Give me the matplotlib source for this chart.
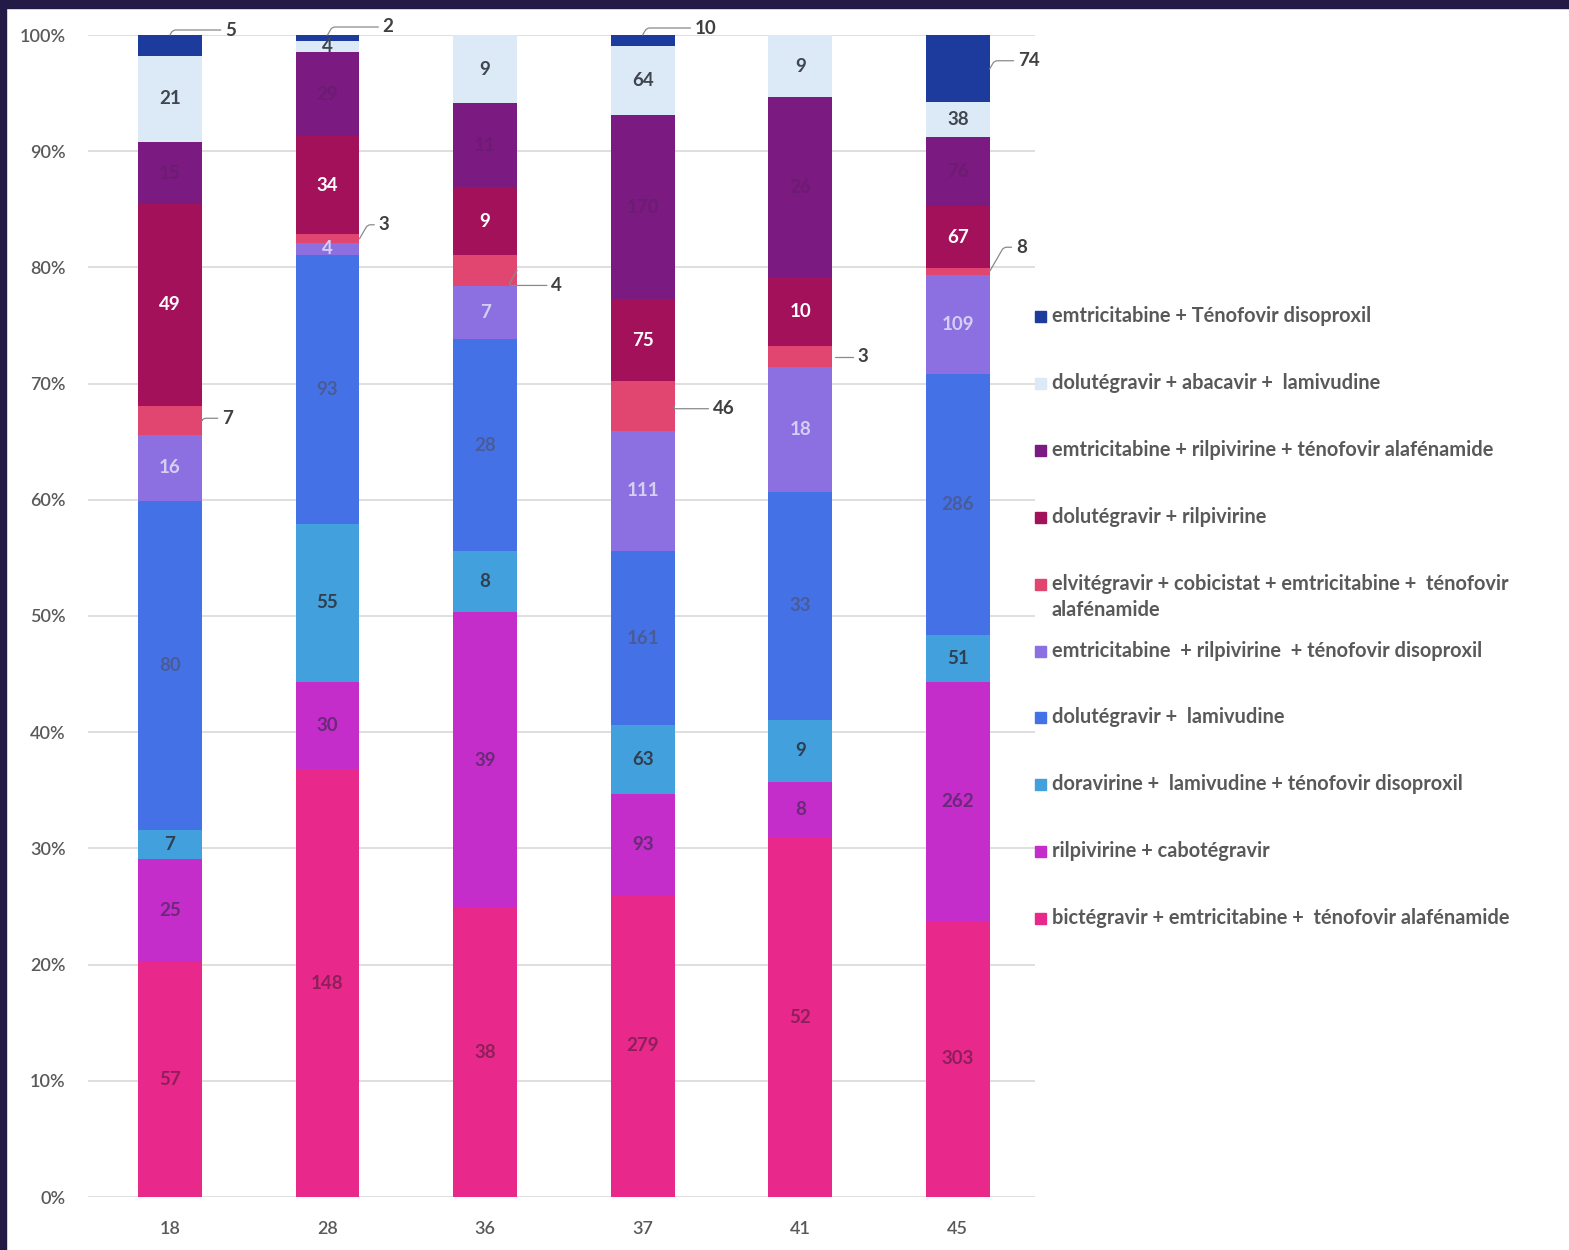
import matplotlib
matplotlib.use("Agg")
import matplotlib.pyplot as plt
from matplotlib.patches import Rectangle
import numpy as np

plt.rcParams['font.family'] = ['Lato', 'DejaVu Sans']

categories = ['18', '28', '36', '37', '41', '45']

series_names = [
    "bictégravir + emtricitabine +  ténofovir alafénamide",
    "rilpivirine + cabotégravir",
    "doravirine +  lamivudine + ténofovir disoproxil",
    "dolutégravir +  lamivudine",
    "emtricitabine  + rilpivirine  + ténofovir disoproxil",
    "elvitégravir + cobicistat + emtricitabine +  ténofovir\nalafénamide",
    "dolutégravir + rilpivirine",
    "emtricitabine + rilpivirine + ténofovir alafénamide",
    "dolutégravir + abacavir +  lamivudine",
    "emtricitabine + Ténofovir disoproxil",
]

bic_ftc_taf = [57, 148, 38, 279, 52, 303]
rpv_cab = [25, 30, 39, 93, 8, 262]
dor_3tc_tdf = [7, 55, 8, 63, 9, 51]
dtg_3tc = [80, 93, 28, 161, 33, 286]
ftc_rpv_tdf = [16, 4, 7, 111, 18, 109]
evg_cobi_ftc_taf = [7, 3, 4, 46, 3, 8]
dtg_rpv = [49, 34, 9, 75, 10, 67]
ftc_rpv_taf = [15, 29, 11, 170, 26, 76]
dtg_abc_3tc = [21, 4, 9, 64, 9, 38]
ftc_tdf = [5, 2, 0, 10, 0, 74]

series_values = [bic_ftc_taf, rpv_cab, dor_3tc_tdf, dtg_3tc, ftc_rpv_tdf,
                 evg_cobi_ftc_taf, dtg_rpv, ftc_rpv_taf, dtg_abc_3tc, ftc_tdf]

colors = ['#e8298b', '#c52dca', '#42a1dc', '#4472e6', '#8c6fe0',
          '#e0466f', '#a3115a', '#7b1a80', '#dbeaf6', '#1d3a9d']
label_colors = ['#8e1f5a', '#6a2a78', '#2f3f4f', '#4a5c98', '#d6cff5',
                '#404040', '#ffffff', '#6c1c72', '#3f4650', '#404040']

# labels drawn outside the bar with a leader line: (bar, series) -> (anchor, dx px, dy px)
outside = {
    (0, 9): ('c', 55, 5), (1, 9): ('c', 55, 8), (3, 9): ('c', 52, 7),
    (5, 9): ('r', 28, 8),
    (0, 5): ('r', 20, 2), (1, 5): ('r', 19, 14), (2, 5): ('r', 34, -15),
    (3, 5): ('r', 38, -3), (4, 5): ('r', 25, 0), (5, 5): ('r', 26, 24),
}

W, H = 1569, 1250
fig = plt.figure(figsize=(W / 100, H / 100), dpi=100)
fig.patch.set_facecolor('white')
# dark frame
fig.add_artist(Rectangle((0, 1 - 8 / H), 1, 8 / H, transform=fig.transFigure,
                         color='#231a45', zorder=10))
fig.add_artist(Rectangle((0, 0), 6 / W, 1, transform=fig.transFigure,
                         color='#231a45', zorder=10))

ax = fig.add_axes([88 / W, 1 - 1197 / H, (1035 - 88) / W, (1197 - 35) / H])
vals = np.array(series_values, dtype=float)
totals = vals.sum(axis=0)
pct = vals / totals * 100
x = np.arange(len(categories))
bw = 0.406
bottom = np.zeros(len(categories))
for s in range(len(series_names)):
    ax.bar(x, pct[s], bw, bottom=bottom, color=colors[s], zorder=3,
           edgecolor='none')
    for i in range(len(categories)):
        v = series_values[s][i]
        if v == 0:
            continue
        mid = bottom[i] + pct[s][i] / 2
        if (i, s) in outside:
            anc, dx, dy = outside[(i, s)]
            if anc == 'c':
                xy = (x[i], bottom[i] + pct[s][i])
            else:
                xy = (x[i] + bw / 2, mid)
            ax.annotate(str(v), xy=xy, xytext=(dx, dy), textcoords='offset pixels',
                        ha='left', va='center', fontsize=13.5, fontweight='bold',
                        color='#404040', zorder=5,
                        arrowprops=dict(arrowstyle='-', color='#8a8a8a', lw=0.9,
                                        shrinkA=1, shrinkB=0,
                                        connectionstyle='angle,angleA=0,angleB=60,rad=3'))
        else:
            ax.text(x[i], mid, str(v), ha='center', va='center', fontsize=13.5,
                    fontweight='bold', color=label_colors[s], zorder=5)
    bottom += pct[s]

ax.set_xlim(-0.52, 5.49)
ax.set_ylim(0, 100)
ax.set_yticks(np.arange(0, 101, 10))
ax.set_yticklabels([f'{t}%' for t in range(0, 101, 10)])
ax.set_xticks(x)
ax.set_xticklabels(categories)
ax.grid(axis='y', color='#d9d9d9', lw=1.2, zorder=0)
for sp in ax.spines.values():
    sp.set_visible(False)
ax.tick_params(axis='both', length=0, labelsize=13, colors='#595959')
for lab in ax.get_xticklabels() + ax.get_yticklabels():
    lab.set_fontweight('semibold')
ax.tick_params(axis='y', pad=16)
ax.tick_params(axis='x', pad=17)
ax.set_facecolor('white')

# legend drawn at fixed slots like the source
leg_y = [316, 383, 450, 517, 584, 651, 717, 784, 851, 918]
order = list(range(len(series_names)))[::-1]
for k, s in enumerate(order):
    yc = 1 - leg_y[k] / H
    fig.add_artist(Rectangle((1035 / W, yc - 6 / H), 11 / W, 11 / H,
                             transform=fig.transFigure, color=colors[s]))
    lines = series_names[s].split('\n')
    for j, ln in enumerate(lines):
        fig.text(1052 / W, yc - j * 26 / H, ln, ha='left', va='center',
                 fontsize=14.4, fontweight='bold', color='#595959')

fig.savefig('out.png', dpi=100)
